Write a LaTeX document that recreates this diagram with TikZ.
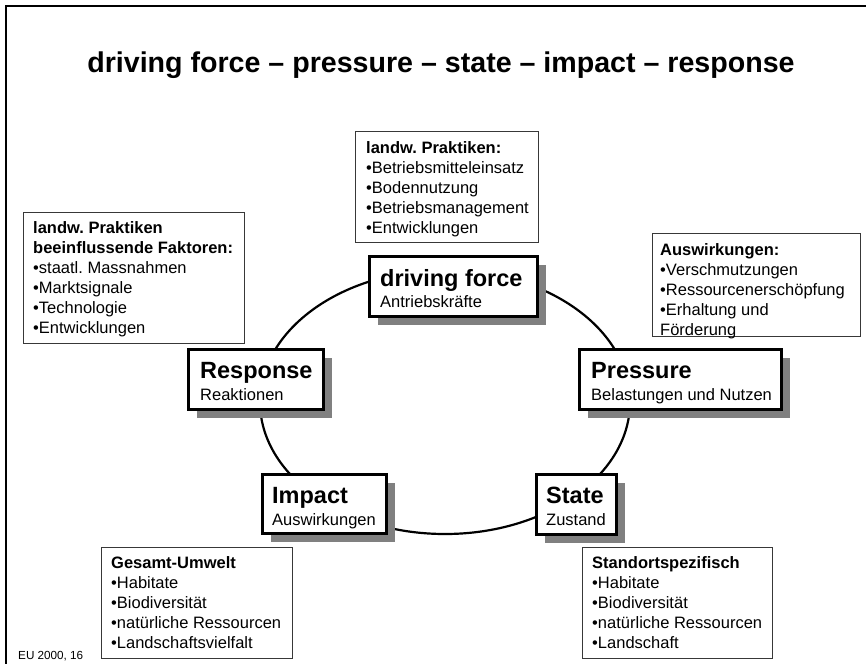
\documentclass[tikz,border=0pt]{standalone}
\usepackage{fontspec}
\setmainfont{Liberation Sans}
\usetikzlibrary{shadows,calc}
\definecolor{shade}{HTML}{808080}
\definecolor{infoline}{HTML}{383838}
\frenchspacing
\begin{document}
\begin{tikzpicture}[x=1pt,y=-1pt,
  frame/.style={line width=2.5pt},
  cycleline/.style={line width=2.2pt},
  mainbox/.style={draw, line width=2.8pt, fill=white, inner sep=0pt, anchor=north west,
    drop shadow={shadow xshift=9pt, shadow yshift=-9pt, fill=shade, opacity=1}},
  infobox/.style={draw=infoline, line width=1.2pt, fill=white, inner sep=0pt, anchor=north west},
  headtext/.style={anchor=base west, inner sep=0pt, font=\fontsize{23.5}{28}\selectfont\bfseries},
  subtext/.style={anchor=base west, inner sep=0pt, font=\fontsize{16.5}{20}\selectfont},
  infotext/.style={anchor=base west, inner sep=0pt, font=\fontsize{16.5}{20}\selectfont\frenchspacing},
  titletext/.style={anchor=base, inner sep=0pt, font=\fontsize{28.6}{34}\selectfont\bfseries},
  sourcetext/.style={anchor=base west, inner sep=0pt, font=\fontsize{11.7}{14}\selectfont}
]
\useasboundingbox (0,0) rectangle (866,664);

% frame
\draw[frame] (866,6) -- (6,6) -- (6,664);

% title
\node[titletext] (ttl) at (441,72) {driving force – pressure – state – impact – response};

% cycle
\draw[cycleline] (445,402) ellipse [x radius=185pt, y radius=132pt];

% main boxes
\node[mainbox, minimum width=168pt, minimum height=60pt] (df) at (368,255) {};
\node[headtext] (dfh) at ($(df.north west)+(12,31)$) {driving force};
\node[subtext] (dfs) at ($(df.north west)+(12,52)$) {Antriebskräfte};

\node[mainbox, minimum width=135pt, minimum height=60pt] (resp) at (187,348) {};
\node[headtext] (resph) at ($(resp.north west)+(13,30)$) {Response};
\node[subtext] (resps) at ($(resp.north west)+(13,52)$) {Reaktionen};

\node[mainbox, minimum width=202pt, minimum height=60pt] (pres) at (578,348) {};
\node[headtext] (presh) at ($(pres.north west)+(13,30)$) {Pressure};
\node[subtext] (press) at ($(pres.north west)+(13,52)$) {Belastungen und Nutzen};

\node[mainbox, minimum width=124pt, minimum height=59pt] (imp) at (261,473) {};
\node[headtext] (imph) at ($(imp.north west)+(11,30)$) {Impact};
\node[subtext] (imps) at ($(imp.north west)+(11,52)$) {Auswirkungen};

\node[mainbox, minimum width=80pt, minimum height=60pt] (state) at (535,473) {};
\node[headtext] (stateh) at ($(state.north west)+(11,30)$) {State};
\node[subtext] (states) at ($(state.north west)+(11,52)$) {Zustand};

% info boxes
\node[infobox, minimum width=183pt, minimum height=111pt] (topinfo) at (355,131) {};
\node[infotext] (topinfot) at ($(topinfo.north west)+(11,22)$) {\begin{tabular}[t]{@{}l@{}}
\textbf{landw. Praktiken:}\\
•Betriebsmitteleinsatz\\
•Bodennutzung\\
•Betriebsmanagement\\
•Entwicklungen
\end{tabular}};

\node[infobox, minimum width=221pt, minimum height=131pt] (leftinfo) at (23,212) {};
\node[infotext] (leftinfot) at ($(leftinfo.north west)+(10,21)$) {\begin{tabular}[t]{@{}l@{}}
\textbf{landw. Praktiken}\\
\textbf{beeinflussende Faktoren:}\\
•staatl. Massnahmen\\
•Marktsignale\\
•Technologie\\
•Entwicklungen
\end{tabular}};

\node[infobox, minimum width=208pt, minimum height=103pt] (rightinfo) at (652,233) {};
\node[infotext] (rightinfot) at ($(rightinfo.north west)+(8,22)$) {\begin{tabular}[t]{@{}l@{}}
\textbf{Auswirkungen:}\\
•Verschmutzungen\\
•Ressourcenerschöpfung\\
•Erhaltung und\\
Förderung
\end{tabular}};

\node[infobox, minimum width=191pt, minimum height=111pt] (envinfo) at (101,547) {};
\node[infotext] (envinfot) at ($(envinfo.north west)+(10,21)$) {\begin{tabular}[t]{@{}l@{}}
\textbf{Gesamt-Umwelt}\\
•Habitate\\
•Biodiversität\\
•natürliche Ressourcen\\
•Landschaftsvielfalt
\end{tabular}};

\node[infobox, minimum width=190pt, minimum height=111pt] (siteinfo) at (582,547) {};
\node[infotext] (siteinfot) at ($(siteinfo.north west)+(10,21)$) {\begin{tabular}[t]{@{}l@{}}
\textbf{Standortspezifisch}\\
•Habitate\\
•Biodiversität\\
•natürliche Ressourcen\\
•Landschaft
\end{tabular}};

% source
\node[sourcetext] (src) at (18,659) {EU 2000, 16};
\end{tikzpicture}
\end{document}
